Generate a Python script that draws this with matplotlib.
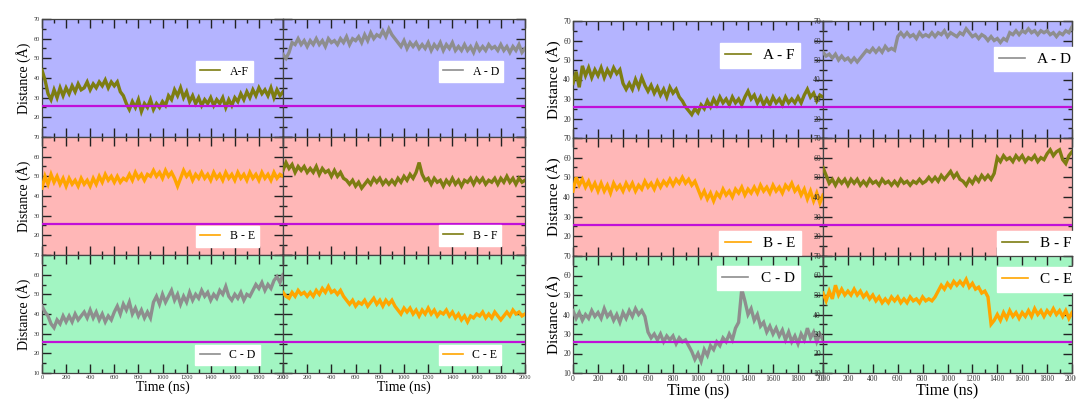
import numpy as np
import matplotlib
matplotlib.use("Agg")
import matplotlib.pyplot as plt
from matplotlib.lines import Line2D
from matplotlib.ticker import MultipleLocator

plt.rcParams['font.family'] = ['Liberation Serif', 'DejaVu Serif']

# sampling grid (ns)
time_ns = np.arange(0, 2001, 25)

# ---------------- left group ----------------
left_af = [44, 39, 32, 29, 34, 30, 35, 31, 35,
           32, 36, 33, 37, 34, 35, 38, 34, 37,
           35, 38, 36, 39, 35, 38, 36, 38, 33,
           31, 27, 24, 28, 25, 29, 23, 27, 25,
           29, 24, 27, 25, 28, 26, 31, 29, 34,
           31, 35, 30, 33, 28, 31, 27, 30, 26,
           29, 27, 30, 26, 29, 27, 30, 25, 29,
           26, 30, 28, 32, 29, 33, 30, 34, 31,
           35, 32, 34, 31, 35, 30, 34, 31, 33]
left_ad = [52, 50, 53, 58, 57, 60, 57, 59, 56,
           59, 57, 60, 57, 59, 56, 60, 58, 59,
           57, 60, 58, 61, 57, 60, 59, 61, 58,
           62, 59, 63, 60, 62, 61, 64, 61, 65,
           62, 60, 58, 56, 59, 55, 58, 56, 58,
           55, 57, 55, 58, 54, 57, 55, 58, 54,
           57, 55, 58, 54, 56, 54, 57, 54, 56,
           53, 57, 54, 56, 54, 57, 55, 56, 54,
           57, 54, 56, 53, 56, 54, 57, 53, 55]
left_be = [44, 50, 46, 51, 47, 50, 46, 49, 45,
           49, 46, 48, 45, 49, 46, 48, 45, 49,
           46, 50, 47, 51, 48, 50, 47, 50, 47,
           49, 48, 51, 48, 52, 49, 51, 48, 51,
           50, 53, 50, 52, 49, 53, 50, 52, 49,
           45, 49, 53, 50, 52, 48, 51, 49, 52,
           49, 51, 48, 52, 49, 51, 48, 52, 49,
           51, 48, 52, 49, 51, 48, 52, 49, 51,
           48, 52, 49, 51, 48, 52, 49, 51, 50]
left_bf = [53, 57, 54, 56, 52, 55, 53, 55, 52,
           54, 52, 55, 51, 54, 52, 53, 50, 53,
           50, 52, 49, 48, 46, 48, 45, 47, 44,
           46, 48, 46, 49, 47, 49, 46, 48, 46,
           48, 46, 49, 47, 50, 48, 51, 49, 52,
           57, 51, 48, 49, 46, 49, 47, 48, 45,
           48, 46, 49, 46, 48, 45, 48, 47, 49,
           46, 49, 47, 49, 46, 48, 47, 49, 46,
           49, 47, 50, 47, 49, 46, 49, 47, 48]
left_cd = [44, 41, 39, 35, 33, 37, 35, 39, 36,
           39, 36, 40, 37, 39, 41, 38, 42, 38,
           41, 37, 40, 36, 39, 37, 41, 44, 40,
           45, 42, 46, 40, 43, 39, 42, 38, 41,
           38, 46, 49, 45, 50, 46, 49, 52, 47,
           50, 45, 49, 46, 51, 47, 50, 48, 52,
           49, 51, 47, 50, 48, 52, 50, 54, 49,
           47, 50, 48, 51, 47, 50, 49, 52, 55,
           53, 56, 52, 55, 53, 57, 59, 56, 60]
left_ce = [51, 49, 48, 51, 49, 52, 50, 51, 49,
           51, 49, 52, 50, 53, 51, 54, 51, 52,
           50, 52, 49, 47, 45, 47, 44, 46, 45,
           47, 44, 46, 48, 45, 47, 44, 47, 45,
           47, 44, 42, 40, 43, 41, 43, 40, 42,
           39, 42, 40, 43, 40, 42, 39, 41, 40,
           42, 39, 41, 38, 40, 37, 39, 36, 39,
           38, 40, 39, 41, 38, 40, 38, 41, 39,
           37, 39, 41, 39, 42, 40, 41, 39, 40]

# ---------------- right group ----------------
right_af = [38, 44, 36, 47, 42, 46, 41, 45, 42,
            46, 41, 45, 42, 46, 43, 45, 38, 35,
            38, 35, 40, 36, 41, 37, 34, 37, 33,
            36, 32, 35, 31, 36, 33, 35, 31, 29,
            26, 24, 22, 25, 23, 27, 25, 29, 26,
            30, 27, 31, 28, 30, 27, 31, 28, 30,
            27, 31, 34, 30, 32, 28, 31, 27, 30,
            27, 31, 28, 30, 27, 31, 28, 30, 28,
            31, 28, 32, 35, 31, 33, 29, 32, 31]
right_ad = [54, 52, 53, 51, 53, 50, 52, 50, 51,
            49, 51, 49, 51, 53, 55, 54, 56, 54,
            56, 54, 57, 55, 56, 55, 62, 64, 62,
            64, 62, 63, 61, 64, 62, 63, 62, 64,
            62, 64, 63, 65, 62, 64, 63, 62, 64,
            63, 66, 64, 62, 63, 61, 63, 62, 60,
            62, 60, 61, 59, 61, 60, 64, 63, 65,
            63, 65, 64, 66, 64, 65, 63, 65, 64,
            65, 63, 64, 62, 64, 63, 65, 64, 67]
right_be = [43, 50, 46, 49, 45, 48, 44, 47, 43,
            47, 43, 46, 42, 47, 44, 46, 43, 47,
            44, 47, 43, 46, 44, 48, 45, 47, 44,
            48, 45, 48, 46, 49, 46, 49, 47, 50,
            47, 49, 46, 48, 44, 40, 43, 39, 42,
            38, 42, 40, 44, 41, 43, 40, 44, 42,
            45, 41, 44, 42, 45, 42, 46, 43, 45,
            42, 46, 43, 45, 42, 46, 44, 47, 43,
            45, 41, 44, 39, 43, 38, 42, 37, 41]
right_bf = [55, 51, 47, 49, 46, 49, 47, 49, 46,
            49, 47, 49, 46, 48, 46, 49, 47, 48,
            46, 49, 47, 48, 46, 48, 46, 49, 47,
            48, 46, 48, 47, 49, 47, 48, 50, 48,
            50, 48, 51, 49, 51, 53, 50, 52, 49,
            48, 46, 49, 47, 50, 48, 51, 49, 51,
            49, 52, 60, 58, 61, 59, 60, 58, 61,
            59, 61, 58, 60, 59, 61, 58, 60, 59,
            62, 64, 61, 63, 64, 59, 57, 61, 63]
right_cd = [42, 38, 41, 37, 40, 38, 42, 39, 41,
            38, 43, 39, 41, 37, 40, 36, 41, 38,
            42, 39, 43, 40, 42, 39, 31, 28, 30,
            27, 30, 26, 29, 27, 29, 25, 28, 26,
            27, 24, 21, 17, 20, 16, 22, 19, 24,
            22, 26, 24, 28, 26, 30, 27, 33, 36,
            53, 47, 40, 43, 37, 40, 34, 36, 31,
            34, 30, 33, 29, 32, 27, 31, 26, 29,
            25, 30, 27, 33, 28, 31, 26, 30, 27]
right_ce = [51, 47, 52, 48, 55, 50, 53, 50, 52,
            50, 53, 50, 52, 49, 51, 48, 50, 47,
            49, 46, 48, 46, 49, 47, 49, 46, 48,
            46, 49, 47, 48, 46, 49, 47, 48, 47,
            49, 52, 55, 53, 56, 54, 57, 55, 57,
            55, 58, 54, 56, 53, 54, 51, 52, 49,
            35, 37, 40, 37, 41, 38, 42, 39, 41,
            38, 41, 39, 42, 39, 43, 40, 42, 39,
            42, 40, 43, 40, 42, 39, 42, 38, 41]

threshold = 26

OLIVE = '#7d7d12'
GRAY = '#8e8e8e'
ORANGE = '#ffa500'
MAGENTA = '#c010d8'
BG = ['#b4b4ff', '#ffb7b7', '#a2f5c2']

W, H = 1076, 401
fig = plt.figure(figsize=(W / 100, H / 100), dpi=100)


def px_axes(x0, y0, x1, y1):
    return fig.add_axes([x0 / W, 1 - y1 / H, (x1 - x0) / W, (y1 - y0) / H])


groups = [
    dict(xs=[(42, 283), (283, 525)], ys=[(19, 137), (137, 255), (255, 373)],
         data=[[(left_af, OLIVE, 'A-F', (0.757, 0.555)), (left_ad, GRAY, 'A - D', (0.777, 0.555))],
               [(left_be, ORANGE, 'B - E', (0.77, 0.157)), (left_bf, OLIVE, 'B - F', (0.773, 0.165))],
               [(left_cd, GRAY, 'C - D', (0.77, 0.153)), (left_ce, ORANGE, 'C - E', (0.773, 0.153))]],
         tick=4.5, leg=8.5, lab=10, xlab=10, inner_y=False),
    dict(xs=[(573, 823), (823, 1072)], ys=[(21, 138), (138, 256), (256, 373)],
         data=[[(right_af, OLIVE, 'A - F', (0.748, 0.705)), (right_ad, GRAY, 'A - D', (0.853, 0.675))],
               [(right_be, ORANGE, 'B - E', (0.748, 0.11)), (right_bf, OLIVE, 'B - F', (0.86, 0.11))],
               [(right_cd, GRAY, 'C - D', (0.742, 0.81)), (right_ce, ORANGE, 'C - E', (0.86, 0.80))]],
         tick=5.5, leg=11, lab=11, xlab=11.5, inner_y=True),
]

for g in groups:
    for r, (y0, y1) in enumerate(g['ys']):
        for c, (x0, x1) in enumerate(g['xs']):
            ax = px_axes(x0, y0, x1, y1)
            vals, col, label, lpos = g['data'][r][c]
            ax.set_facecolor(BG[r])
            ax.plot(time_ns, vals, color=col, lw=2.4, zorder=3, solid_joinstyle='miter')
            ax.axhline(threshold, color=MAGENTA, lw=1.6, zorder=4)
            ax.set_xlim(0, 2000)
            ax.set_ylim(10, 70)
            ax.xaxis.set_major_locator(MultipleLocator(200))
            ax.xaxis.set_minor_locator(MultipleLocator(100))
            ax.yaxis.set_major_locator(MultipleLocator(10))
            ax.yaxis.set_minor_locator(MultipleLocator(5))
            ax.tick_params(which='both', direction='in', top=True, right=True,
                           color='#222222', width=1.0, labelsize=g['tick'],
                           labelcolor='#333333', pad=1.5)
            ax.tick_params(which='major', length=6.5)
            ax.tick_params(which='minor', length=3)
            for s in ax.spines.values():
                s.set_color('#444444')
                s.set_linewidth(0.9)
            if r < 2:
                ax.tick_params(labelbottom=False)
            else:
                ax.set_xlabel('Time (ns)', fontsize=g['xlab'], labelpad=0)
            if c == 1 and not g['inner_y']:
                ax.tick_params(labelleft=False)
            else:
                if r < 2:
                    ax.set_yticks([20, 30, 40, 50, 60, 70])
                    ax.set_yticklabels(['20', '30', '40', '50', '60', '70'])
            if c == 0:
                ax.set_ylabel('Distance (Å)', fontsize=g['lab'], labelpad=2)
            h = Line2D([], [], color=col, lw=1.2)
            ax.legend(handles=[h], labels=[label], loc='center', bbox_to_anchor=lpos,
                      frameon=True, fancybox=False, framealpha=1, edgecolor='white',
                      facecolor='white', fontsize=g['leg'], handlelength=1.7,
                      handletextpad=0.8, borderpad=0.35, borderaxespad=0)

fig.savefig('out.png', dpi=100)
